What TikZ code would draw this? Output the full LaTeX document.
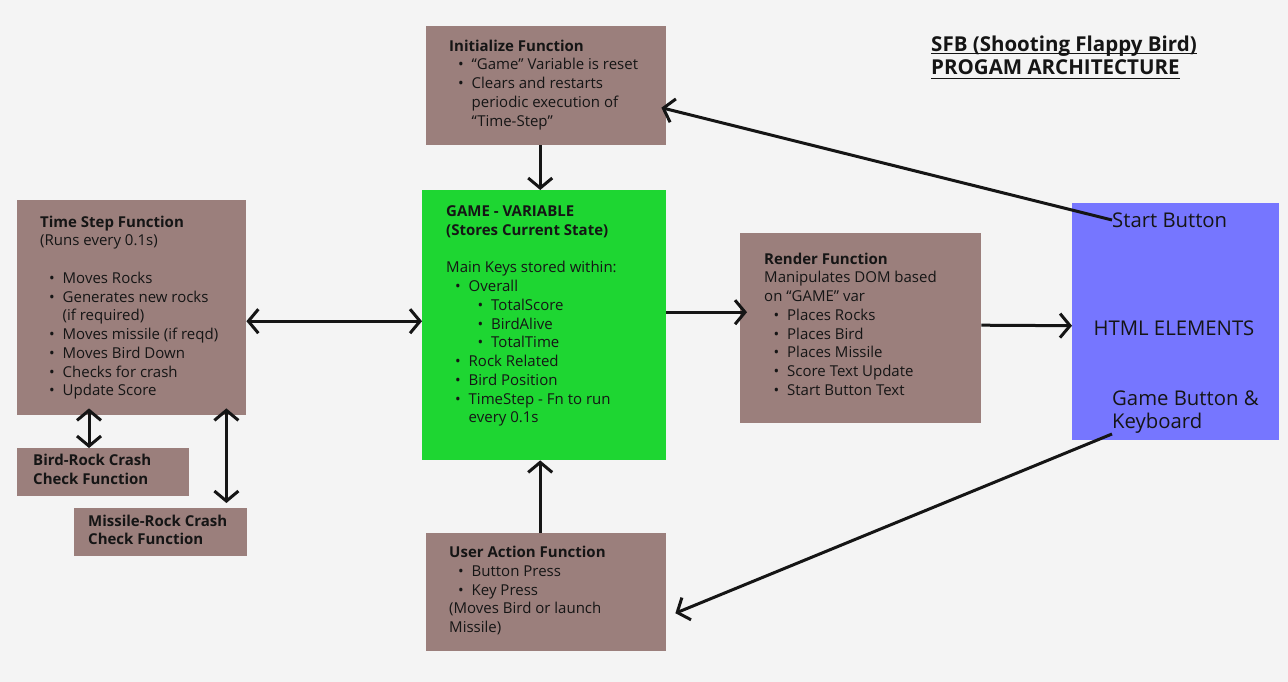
\documentclass[tikz,border=0pt]{standalone}
\usepackage{fontspec}
\setmainfont{Open Sans}
\usetikzlibrary{arrows.meta,calc}
\definecolor{bgc}{HTML}{F4F4F4}
\definecolor{brn}{HTML}{9B7F7C}
\definecolor{grn}{HTML}{1ED632}
\definecolor{blu}{HTML}{7676FF}
\definecolor{ink}{HTML}{151515}
\newcommand\bul[2]{\makebox[#1][r]{•\hspace{8pt}}#2}
\newcommand\ind[2]{\hspace*{#1}#2}
\newcommand\ulrule[2]{\setbox0\hbox{#2}\rlap{\rule[-#1]{\wd0}{1.7pt}}\box0}
\tikzset{
  box/.style={anchor=north west, inner sep=0pt, draw=none},
  txt/.style={anchor=north west, inner sep=0pt, align=left, text=ink,
    font=\fontsize{15}{18.75}\selectfont},
  bigtxt/.style={inner sep=0pt, align=left, text=ink,
    font=\fontsize{20.3}{23.5}\selectfont},
  arr/.style={line width=3pt, draw=ink, -{Straight Barb[length=10pt,width=24pt]}},
  dbl/.style={line width=3pt, draw=ink, {Straight Barb[length=10pt,width=24pt]}-{Straight Barb[length=10pt,width=24pt]}}
}
\begin{document}
\begin{tikzpicture}[x=1pt,y=-1pt]
\useasboundingbox (0,0) rectangle (1288,682);
\fill[bgc] (0,0) rectangle (1288,682);

% boxes
\node[box, fill=brn, minimum width=240pt, minimum height=119pt] (init) at (426,26) {};
\node[box, fill=grn, minimum width=244pt, minimum height=270pt] (game) at (422,190) {};
\node[box, fill=brn, minimum width=229pt, minimum height=215pt] (ts) at (17,200) {};
\node[box, fill=brn, minimum width=172pt, minimum height=48pt] (bird) at (17,448) {};
\node[box, fill=brn, minimum width=173pt, minimum height=48pt] (miss) at (74,508) {};
\node[box, fill=brn, minimum width=241pt, minimum height=190pt] (render) at (740,233) {};
\node[box, fill=blu, minimum width=207pt, minimum height=237pt] (html) at (1072,203) {};
\node[box, fill=brn, minimum width=240pt, minimum height=118pt] (user) at (426,533) {};

% texts
\node[txt] (inittxt) at (449,39.5) {{\bfseries Initialize Function}\\
\bul{22.5pt}{“Game” Variable is reset}\\
\bul{22.5pt}{Clears and restarts}\\
\ind{22.5pt}{periodic execution of}\\
\ind{22.5pt}{“Time-Step”}};

\node[txt] (tstxt) at (40,215.5) {{\bfseries Time Step Function}\\
(Runs every 0.1s)\\[18.75pt]
\bul{22.5pt}{Moves Rocks}\\
\bul{22.5pt}{Generates new rocks}\\
\ind{22.5pt}{(if required)}\\
\bul{22.5pt}{Moves missile (if reqd)}\\
\bul{22.5pt}{Moves Bird Down}\\
\bul{22.5pt}{Checks for crash}\\
\bul{22.5pt}{Update Score}};

\node[txt, font=\bfseries\fontsize{15}{18.75}\selectfont] (birdtxt) at (33,454) {Bird-Rock Crash\\Check Function};
\node[txt, font=\bfseries\fontsize{15}{18.75}\selectfont] (misstxt) at (88,514.5) {Missile-Rock Crash\\Check Function};

\node[txt] (gametxt) at (446,205.5) {{\bfseries GAME - VARIABLE}\\
{\bfseries (Stores Current State)}\\[18.75pt]
Main Keys stored within:\\
\bul{22.5pt}{Overall}\\
\bul{45pt}{TotalScore}\\
\bul{45pt}{BirdAlive}\\
\bul{45pt}{TotalTime}\\
\bul{22.5pt}{Rock Related}\\
\bul{22.5pt}{Bird Position}\\
\bul{22.5pt}{TimeStep - Fn to run}\\
\ind{22.5pt}{every 0.1s}};

\node[txt] (rendertxt) at (764,252.5) {{\bfseries Render Function}\\
Manipulates DOM based\\
on “GAME” var\\
\bul{23pt}{Places Rocks}\\
\bul{23pt}{Places Bird}\\
\bul{23pt}{Places Missile}\\
\bul{23pt}{Score Text Update}\\
\bul{23pt}{Start Button Text}};

\node[txt] (usertxt) at (449,546) {{\bfseries User Action Function}\\
\bul{22.5pt}{Button Press}\\
\bul{22.5pt}{Key Press}\\
(Moves Bird or launch\\
Missile)};

\node[bigtxt, anchor=west] (startbtn) at (1112,220) {Start Button};
\node[bigtxt, anchor=center] (htmltxt) at (1174,328) {HTML ELEMENTS};
\node[bigtxt, anchor=north west] (gamebtn) at (1112,390.5) {Game Button \&\\Keyboard};

\node[anchor=north west, inner sep=0pt, align=left, text=ink,
  font=\bfseries\fontsize{20.5}{23}\selectfont] (title) at (931,36)
  {\ulrule{2.5pt}{SFB (Shooting Flappy Bird)}\\\ulrule{4.5pt}{PROGAM ARCHITECTURE}};

% connectors
\draw[arr] ($(init.south)+(-6,0)$) -- ($(game.north)+(-4,0)$);
\draw[dbl] ($(ts.east)+(0,13.5)$) -- ($(game.west)+(0,-4)$);
\draw[dbl] ($(ts.south west)+(72,-7)$) -- ($(bird.north west)+(72,0)$);
\draw[dbl] ($(ts.south east)+(-20,-7)$) -- ($(miss.north east)+(-21,-5)$);
\draw[arr] ($(game.east)+(0,-13)$) -- ($(render.west)+(7,-16)$);
\draw[arr] ($(render.east)+(0,-3)$) -- ($(html.west)+(0,4)$);
\draw[arr] (startbtn.west) -- ($(init.east)+(-5,22)$);
\draw[arr] (gamebtn.south west) -- ($(user.east)+(9,21)$);
\draw[arr] ($(user.north)+(-6,0)$) -- ($(game.south)+(-4,0)$);
\end{tikzpicture}
\end{document}
